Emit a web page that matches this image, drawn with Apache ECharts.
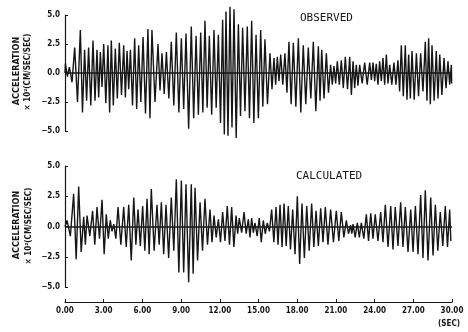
<!DOCTYPE html>
<html>
<head>
<meta charset="utf-8">
<script src="https://cdn.jsdelivr.net/npm/echarts@6/dist/echarts.min.js"></script>
<style>
  html, body { margin: 0; padding: 0; background: #ffffff; }
  #chart { width: 468px; height: 332px; }
</style>
</head>
<body>
<div id="chart"></div>
<script>
// observed record: time of each positive peak (sec), peak value and the trough after it (x10^2 cm/sec/sec)
var obsPeakT = [0.03, 0.34, 0.75, 1.19, 1.52, 1.83, 2.17, 2.48, 2.74, 3.00, 3.33, 3.59, 3.90, 4.21, 4.55, 4.81, 5.07, 5.40, 5.71, 6.05,
  6.43, 6.74, 7.21, 7.52, 7.86, 8.24, 8.63, 9.02, 9.38, 9.79,
  10.16, 10.52, 10.85, 11.19, 11.55, 11.89, 12.22, 12.48, 12.79, 13.10, 13.44, 13.77, 14.13, 14.47, 14.81, 15.17, 15.50, 15.89, 16.20, 16.46,
  16.72, 17.05, 17.36, 17.70, 18.09, 18.47, 18.86, 19.25, 19.64, 19.90,
  20.26, 20.59, 20.85, 21.11, 21.42, 21.73, 22.07, 22.33, 22.58, 22.84, 23.23, 23.62, 23.88, 24.13, 24.39, 24.65, 24.91, 25.17, 25.50, 25.81,
  26.07, 26.38, 26.64, 26.90, 27.24, 27.57, 27.93, 28.19, 28.45, 28.78, 29.05, 29.38, 29.69, 29.95]
var obsPeak = [0.8, 0.5, 2.2, 3.7, 2.0, 2.2, 2.8, 2.0, 1.8, 2.5, 2.4, 2.8, 2.1, 2.6, 2.4, 1.9, 2.0, 3.0, 2.4, 3.1,
  3.8, 3.7, 2.5, 1.7, 1.8, 2.7, 3.5, 3.0, 3.4, 4.0,
  3.2, 3.5, 4.5, 3.2, 3.7, 3.3, 4.6, 5.3, 5.7, 5.5, 4.2, 3.9, 4.0, 4.5, 3.3, 3.7, 2.9, 1.7, 1.3, 1.4,
  1.6, 1.7, 2.7, 2.6, 3.0, 2.4, 2.2, 2.7, 2.3, 2.0,
  1.7, 0.7, 0.6, 1.0, 1.1, 1.4, 1.4, 1.0, 0.7, 0.7, 0.9, 0.9, 0.9, 0.8, 1.0, 1.3, 1.6, 0.7, 0.9, 1.1,
  2.4, 2.4, 1.6, 1.9, 1.7, 1.7, 2.7, 3.0, 2.4, 1.9, 1.6, 1.3, 1.0, 0.7]
var obsTrough = [-0.3, -0.8, -2.5, -3.4, -2.4, -2.8, -2.4, -2.1, -1.2, -2.6, -3.4, -2.8, -2.2, -1.9, -2.1, -1.4, -2.8, -3.1, -2.5, -3.5,
  -3.9, -2.5, -1.5, -1.8, -2.2, -2.8, -3.4, -3.1, -4.8, -3.9,
  -3.6, -3.4, -3.0, -3.6, -3.0, -4.3, -5.3, -5.4, -4.7, -5.6, -3.7, -3.3, -3.9, -4.3, -3.9, -2.9, -2.7, -1.4, -1.0, -0.7,
  -1.0, -1.7, -2.7, -2.9, -3.4, -2.7, -2.2, -3.3, -2.4, -2.2,
  -1.7, -1.0, -0.9, -1.0, -1.3, -1.4, -1.9, -1.3, -1.1, -0.9, -1.0, -0.6, -0.7, -1.0, -0.7, -1.0, -0.9, -1.0, -1.0, -1.6,
  -2.0, -2.3, -2.2, -2.3, -2.0, -1.6, -2.4, -2.7, -2.4, -2.2, -1.9, -1.3, -1.0, -0.9]

// calculated record
var calPeakT = [0.16, 0.67, 1.06, 1.45, 1.71, 2.14, 2.48, 2.87, 3.20, 3.51, 3.78, 4.11, 4.55, 4.94, 5.33, 5.66, 6.02, 6.36, 6.69, 7.13,
  7.47, 7.83, 8.24, 8.63, 9.02, 9.38, 9.79,
  10.08, 10.47, 10.85, 11.24, 11.55, 11.89, 12.22, 12.58, 12.92, 13.26, 13.51, 13.88, 14.21, 14.47, 14.73, 15.06, 15.37, 15.68, 16.02, 16.36,
  16.67, 16.98, 17.31, 17.65, 18.01, 18.37, 18.74, 19.12, 19.46, 19.82,
  20.18, 20.59, 21.03, 21.42, 21.81, 22.14, 22.33, 22.66, 22.97, 23.36, 23.70, 24.05, 24.47, 24.83, 25.25, 25.60, 26.02, 26.38, 26.80, 27.16,
  27.57, 27.93, 28.35, 28.71, 29.09, 29.48, 29.82]
var calPeak = [0.5, 2.7, 3.3, 0.8, 0.9, 1.3, 1.6, 2.2, 1.0, 0.5, 0.2, 1.6, 1.6, 1.8, 2.4, 1.4, 1.7, 2.3, 3.1, 1.8,
  2.0, 1.8, 2.4, 3.9, 3.8, 3.5, 3.5,
  3.2, 2.0, 2.3, 1.4, 0.9, 0.6, 1.2, 1.7, 1.6, 0.9, 0.7, 1.2, 0.6, 0.7, 0.3, 0.7, 0.5, 0.3, 1.4, 1.6,
  1.8, 1.9, 1.7, 1.4, 2.5, 1.9, 1.7, 1.9, 1.3, 1.5,
  1.6, 1.4, 1.3, 1.2, 0.5, 0.1, 0.2, 0.3, 0.3, 1.0, 1.1, 1.0, 1.2, 1.8, 1.7, 1.6, 2.0, 1.6, 1.4, 1.7,
  2.6, 3.0, 2.4, 1.8, 1.2, 1.7, 1.4]
var calTrough = [-0.8, -2.7, -2.1, -1.5, -0.8, -1.5, -1.0, -2.3, -1.0, -0.4, -1.0, -1.5, -1.7, -2.8, -1.5, -1.6, -2.0, -2.3, -2.0, -1.5,
  -2.3, -2.6, -2.0, -3.8, -3.8, -4.6, -3.9,
  -2.8, -2.0, -1.5, -1.3, -0.9, -1.3, -1.2, -1.5, -1.7, -0.6, -0.5, -0.6, -0.9, -0.5, -0.8, -1.3, -0.6, -0.4, -1.3, -1.5,
  -1.7, -1.6, -1.9, -2.3, -3.1, -2.6, -2.0, -1.7, -1.6, -1.3,
  -1.5, -1.3, -1.2, -0.9, -0.6, -0.6, -0.9, -0.9, -1.0, -1.2, -1.0, -1.2, -1.3, -1.7, -1.9, -1.6, -1.7, -2.1, -2.1, -2.3,
  -2.6, -2.8, -2.4, -2.0, -1.6, -1.7, -1.2]

var yTicks = [-5, -2.5, 0, 2.5, 5]
var xTicks = [0, 3, 6, 9, 12, 15, 18, 21, 24, 27, 30]

var ink = '#161616'
var boldFont = '"DejaVu Sans Condensed", "Liberation Sans Narrow", sans-serif'

// peak, then the trough half way to the next peak
function wave(pt, pk, tr) {
  var d = [[0, 0]]
  for (var i = 0; i < pt.length; i++) {
    d.push([pt[i], pk[i]])
    var next = i + 1 < pt.length ? pt[i + 1] : Math.min(pt[i] + 0.34, xTicks[xTicks.length - 1])
    d.push([(pt[i] + next) / 2, tr[i]])
  }
  return d
}

function yAxisOf(idx) {
  return {
    gridIndex: idx,
    type: 'value',
    min: yTicks[0],
    max: yTicks[yTicks.length - 1],
    interval: 2.5,
    axisLine: { show: true, lineStyle: { color: ink, width: 1.2 } },
    axisTick: { show: true, inside: true, length: 3, lineStyle: { color: ink, width: 1 } },
    axisLabel: {
      color: ink, fontSize: 8, fontWeight: 'bold', fontFamily: boldFont, margin: 5,
      formatter: function(v) { return (v < 0 ? '\u2212' : '') + Math.abs(v).toFixed(1) }
    },
    splitLine: { show: false }
  }
}

function seriesOf(idx, data) {
  return {
    type: 'line',
    xAxisIndex: idx,
    yAxisIndex: idx,
    data: data,
    clip: false,
    showSymbol: false,
    silent: true,
    animation: false,
    lineStyle: { color: ink, width: 1.4 },
    markLine: {
      silent: true,
      animation: false,
      symbol: ['none', 'none'],
      label: { show: false },
      lineStyle: { color: ink, width: 1.6, type: 'solid' },
      data: [{ yAxis: 0 }]
    }
  }
}

var myChart = echarts.init(document.getElementById('chart'))
var option = {
  backgroundColor: '#ffffff',
  animation: false,
  grid: [
    { left: 65, right: 16, top: 15, height: 116 },
    { left: 65, right: 16, top: 166, height: 121 }
  ],
  xAxis: [
    { gridIndex: 0, type: 'value', min: 0, max: 30, interval: 3, show: false },
    {
      gridIndex: 1,
      type: 'value',
      min: 0,
      max: 30,
      interval: 3,
      offset: 15,
      axisLine: { show: true, onZero: false, lineStyle: { color: ink, width: 1.2 } },
      axisTick: { show: true, inside: true, length: 3, lineStyle: { color: ink, width: 1 } },
      axisLabel: {
        color: ink, fontSize: 8, fontWeight: 'bold', fontFamily: boldFont, margin: 5,
        formatter: function(v) { return v.toFixed(2) }
      },
      splitLine: { show: false }
    }
  ],
  yAxis: [yAxisOf(0), yAxisOf(1)],
  series: [
    seriesOf(0, wave(obsPeakT, obsPeak, obsTrough)),
    seriesOf(1, wave(calPeakT, calPeak, calTrough))
  ],
  graphic: [
    { type: 'text', x: 300, y: 18, style: { text: 'OBSERVED', font: '11px "DejaVu Sans Mono"', fill: ink, align: 'left', verticalAlign: 'middle' } },
    { type: 'text', x: 296, y: 176, style: { text: 'CALCULATED', font: '11px "DejaVu Sans Mono"', fill: ink, align: 'left', verticalAlign: 'middle' } },
    { type: 'text', x: 17, y: 71, rotation: Math.PI / 2, style: { text: 'ACCELERATION', font: 'bold 9px ' + boldFont, fill: ink, align: 'center', verticalAlign: 'middle' } },
    { type: 'text', x: 28, y: 72, rotation: Math.PI / 2, style: { text: '\u00d7 10\u00b2(CM/SEC/SEC)', font: 'bold 8px ' + boldFont, fill: ink, align: 'center', verticalAlign: 'middle' } },
    { type: 'text', x: 17, y: 225, rotation: Math.PI / 2, style: { text: 'ACCELERATION', font: 'bold 9px ' + boldFont, fill: ink, align: 'center', verticalAlign: 'middle' } },
    { type: 'text', x: 29, y: 226, rotation: Math.PI / 2, style: { text: '\u00d7 10\u00b2(CM/SEC/SEC)', font: 'bold 8px ' + boldFont, fill: ink, align: 'center', verticalAlign: 'middle' } },
    { type: 'text', x: 449, y: 324, style: { text: '(SEC)', font: 'bold 8px ' + boldFont, fill: ink, align: 'center', verticalAlign: 'middle' } }
  ]
}
myChart.setOption(option)
window.addEventListener('resize', function() {
  myChart.resize()
})
</script>
</body>
</html>
